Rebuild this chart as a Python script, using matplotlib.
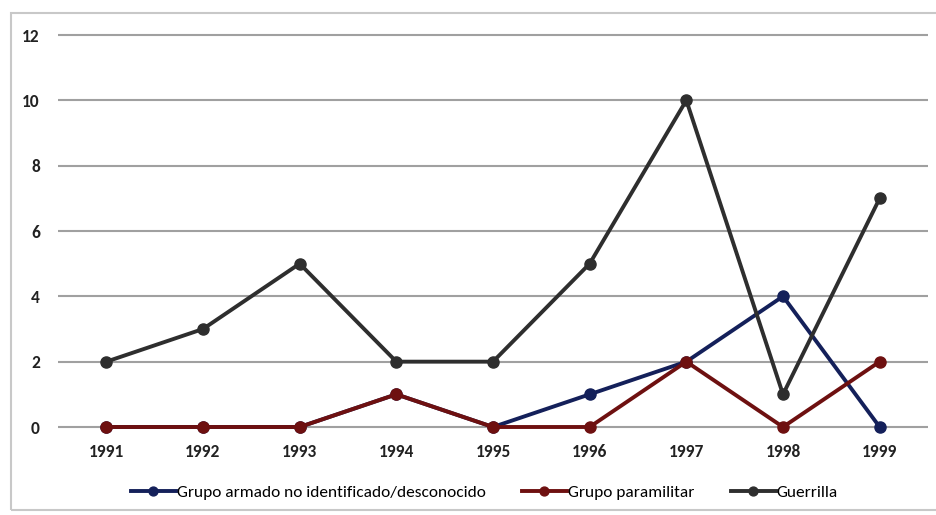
import matplotlib.pyplot as plt
from matplotlib.patches import Rectangle
import numpy as np

years = ["1991", "1992", "1993", "1994", "1995", "1996", "1997", "1998", "1999"]
armado = [0, 0, 0, 1, 0, 1, 2, 4, 0]
paramilitar = [0, 0, 0, 1, 0, 0, 2, 0, 2]
guerrilla = [2, 3, 5, 2, 2, 5, 10, 1, 7]

plt.rcParams["font.family"] = ["Carlito", "DejaVu Sans"]

fig = plt.figure(figsize=(9.37, 5.15), dpi=100)
ax = fig.add_axes([58 / 937, 1 - 427 / 515, 870 / 937, 392 / 515])

# outer frame of the original chart box
fig.patches.append(Rectangle((11 / 937, 1 - 510 / 515), 1.0, 497 / 515,
                             transform=fig.transFigure, fill=False,
                             edgecolor="#c8c8c8", linewidth=1.5))

x = np.arange(len(years))
style = dict(marker="o", markersize=8, linewidth=2.8, clip_on=False)
ax.plot(x, armado, color="#14205a", label="Grupo armado no identificado/desconocido", zorder=3, **style)
ax.plot(x, paramilitar, color="#6e1010", label="Grupo paramilitar", zorder=4, **style)
ax.plot(x, guerrilla, color="#2e2e2e", label="Guerrilla", zorder=5, **style)

ax.set_xlim(-0.5, len(years) - 0.5)
ax.set_ylim(0, 12)
yt = list(range(0, 13, 2))
ax.set_yticks(yt)
ax.hlines(yt, -0.5, len(years) - 0.5, color="#a0a0a0", linewidth=1.5, clip_on=False, zorder=1)
ax.set_xticks(x)
ax.set_xticklabels(years)
for s in ax.spines.values():
    s.set_visible(False)
ax.tick_params(length=0, labelsize=12.5, colors="#222222")
ax.tick_params(axis="y", pad=13)
ax.tick_params(axis="x", pad=12)
for lbl in ax.get_xticklabels() + ax.get_yticklabels():
    lbl.set_fontweight("bold")

ax.legend(loc="center", bbox_to_anchor=(0.49, -0.167), ncol=3, frameon=False,
          fontsize=12.5, handlelength=2.6, handletextpad=0.05, columnspacing=2.1,
          markerscale=0.8)

fig.savefig("out.png", dpi=100, facecolor="white")
